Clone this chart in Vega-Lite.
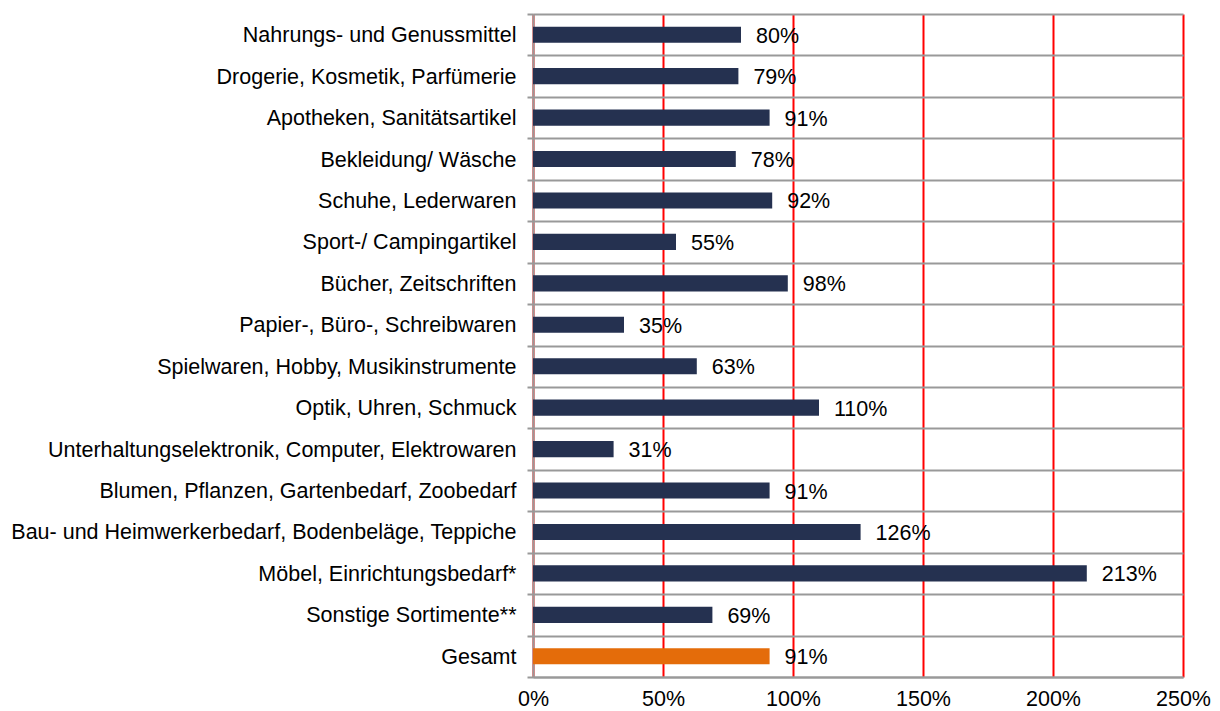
{
  "$schema": "https://vega.github.io/schema/vega-lite/v6.json",
  "width": 650,
  "height": 663,
  "autosize": "none",
  "padding": {"left": 533, "top": 14, "right": 37, "bottom": 34},
  "background": "white",
  "config": {"font": "Liberation Sans", "view": {"stroke": null}},
  "data": {"values": [
    {"sortiment": "Nahrungs- und Genussmittel", "anteil": 80, "beschriftung": "80%", "typ": "Sortiment"},
    {"sortiment": "Drogerie, Kosmetik, Parfümerie", "anteil": 79, "beschriftung": "79%", "typ": "Sortiment"},
    {"sortiment": "Apotheken, Sanitätsartikel", "anteil": 91, "beschriftung": "91%", "typ": "Sortiment"},
    {"sortiment": "Bekleidung/ Wäsche", "anteil": 78, "beschriftung": "78%", "typ": "Sortiment"},
    {"sortiment": "Schuhe, Lederwaren", "anteil": 92, "beschriftung": "92%", "typ": "Sortiment"},
    {"sortiment": "Sport-/ Campingartikel", "anteil": 55, "beschriftung": "55%", "typ": "Sortiment"},
    {"sortiment": "Bücher, Zeitschriften", "anteil": 98, "beschriftung": "98%", "typ": "Sortiment"},
    {"sortiment": "Papier-, Büro-, Schreibwaren", "anteil": 35, "beschriftung": "35%", "typ": "Sortiment"},
    {"sortiment": "Spielwaren, Hobby, Musikinstrumente", "anteil": 63, "beschriftung": "63%", "typ": "Sortiment"},
    {"sortiment": "Optik, Uhren, Schmuck", "anteil": 110, "beschriftung": "110%", "typ": "Sortiment"},
    {"sortiment": "Unterhaltungselektronik, Computer, Elektrowaren", "anteil": 31, "beschriftung": "31%", "typ": "Sortiment"},
    {"sortiment": "Blumen, Pflanzen, Gartenbedarf, Zoobedarf", "anteil": 91, "beschriftung": "91%", "typ": "Sortiment"},
    {"sortiment": "Bau- und Heimwerkerbedarf, Bodenbeläge, Teppiche", "anteil": 126, "beschriftung": "126%", "typ": "Sortiment"},
    {"sortiment": "Möbel, Einrichtungsbedarf*", "anteil": 213, "beschriftung": "213%", "typ": "Sortiment"},
    {"sortiment": "Sonstige Sortimente**", "anteil": 69, "beschriftung": "69%", "typ": "Sortiment"},
    {"sortiment": "Gesamt", "anteil": 91, "beschriftung": "91%", "typ": "Gesamt"}
  ]},
  "encoding": {
    "y": {
      "field": "sortiment", "type": "nominal", "sort": null,
      "scale": {"paddingInner": 0, "paddingOuter": 0},
      "axis": {
        "title": null, "tickBand": "extent", "grid": true,
        "gridColor": "#999999", "gridWidth": 2,
        "domainColor": "#999999", "domainWidth": 2,
        "tickColor": "#999999", "tickWidth": 2, "tickSize": 6,
        "labelPadding": 11, "labelOffset": 1, "labelFontSize": 21.5, "labelColor": "#000000", "labelLimit": 700
      }
    },
    "x": {
      "field": "anteil", "type": "quantitative",
      "scale": {"domain": [0, 250]},
      "axis": {
        "title": null, "values": [0, 50, 100, 150, 200, 250],
        "labelExpr": "datum.value + '%'",
        "grid": true, "gridColor": "#ff0000", "gridWidth": 2,
        "ticks": false, "tickSize": 0,
        "domainColor": "#999999", "domainWidth": 2,
        "labelFontSize": 21.5, "labelColor": "#000000", "labelPadding": 11, "labelFlush": false
      }
    }
  },
  "layer": [
    {
      "mark": {"type": "bar", "height": {"band": 0.39}},
      "encoding": {
        "color": {
          "field": "typ", "type": "nominal",
          "scale": {"domain": ["Sortiment", "Gesamt"], "range": ["#253150", "#e46c0a"]},
          "legend": null
        }
      }
    },
    {
      "mark": {"type": "text", "align": "left", "baseline": "middle", "dx": 15, "dy": 2, "fontSize": 21.5, "color": "#000000"},
      "encoding": {"text": {"field": "beschriftung"}}
    }
  ]
}
